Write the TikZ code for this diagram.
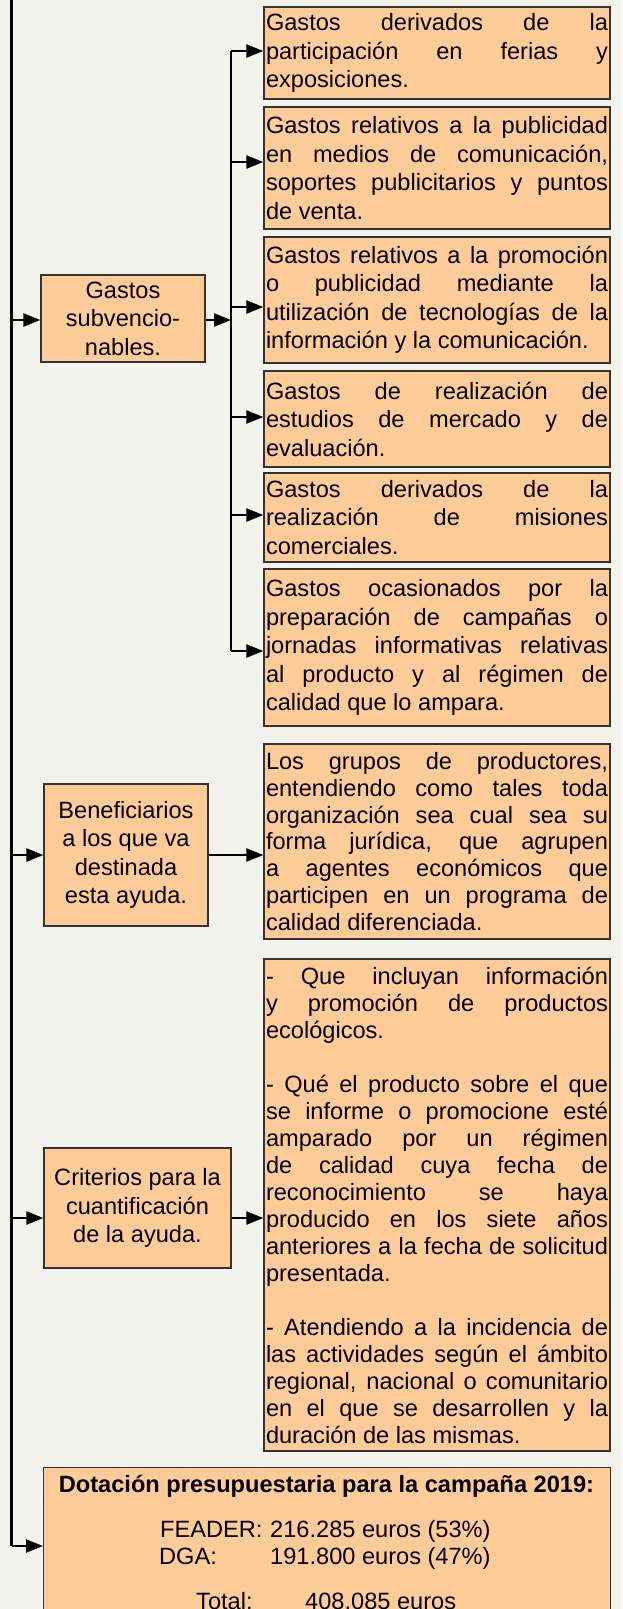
\documentclass[tikz,border=0pt]{standalone}
\usepackage{fontspec}
\setmainfont{Liberation Sans}
\usetikzlibrary{arrows.meta}
\definecolor{bgc}{RGB}{243,243,238}
\definecolor{peach}{RGB}{255,204,153}
\definecolor{edgec}{RGB}{51,51,51}
\hyphenpenalty=10000
\exhyphenpenalty=10000
\setlength{\parindent}{0pt}
\begin{document}
\begin{tikzpicture}[x=1pt,y=-1pt,
  box/.style={draw=edgec, line width=1.3pt, fill=peach},
  rbox/.style={box, text width=342pt, inner xsep=2pt, inner ysep=0pt, align=justify, font=\fontsize{23.6}{28.5}\selectfont},
  lbox/.style={box, align=center, inner sep=0pt, font=\fontsize{23.6}{28.5}\selectfont},
  txt/.style={inner sep=0pt, font=\fontsize{23.6}{28.5}\selectfont},
  conn/.style={line width=2.3pt, black},
  arr/.style={conn, -{Triangle[length=17pt,width=13pt]}},
]
\fill[bgc] (0,0) rectangle (622,1609);
\useasboundingbox (0,0) rectangle (622,1609);
\clip (0,0) rectangle (622,1609);

% left boxes
\node[lbox, minimum width=164pt, minimum height=87pt] (subv) at (123,318.5) {Gastos\\subvencio-\\nables.};
\node[lbox, minimum width=164pt, minimum height=142pt] (benef) at (126,855) {Beneficiarios\\a los que va\\destinada\\esta ayuda.};
\node[lbox, minimum width=187pt, minimum height=120pt] (crit) at (137.5,1208) {Criterios para la\\cuantificación\\de la ayuda.};

% right boxes
\node[rbox, minimum height=92pt] (r1) at (437,53) {Gastos derivados de la\linebreak participación en ferias y\linebreak exposiciones.};
\node[rbox, minimum height=122pt] (r2) at (437,168) {Gastos relativos a la publicidad\linebreak en medios de comunicación,\linebreak soportes publicitarios y puntos\linebreak de venta.};
\node[rbox, minimum height=126pt] (r3) at (437,300) {Gastos relativos a la promoción\linebreak o publicidad mediante la\linebreak utilización de tecnologías de la\linebreak información y la comunicación.};
\node[rbox, minimum height=96pt] (r4) at (437,419) {Gastos de realización de\linebreak estudios de mercado y de\linebreak evaluación.};
\node[rbox, minimum height=89pt] (r5) at (437,517.5) {Gastos derivados de la\linebreak realización de misiones\linebreak comerciales.};
\node[rbox, minimum height=157pt] (r6) at (437,647.5) {Gastos ocasionados por la\linebreak preparación de campañas o\linebreak jornadas informativas relativas\linebreak al producto y al régimen de\linebreak calidad que lo ampara.};
\node[rbox, minimum height=195pt, font=\fontsize{23.6}{26.7}\selectfont] (rb) at (437,841.5) {Los grupos de productores,\linebreak entendiendo como tales toda\linebreak organización sea cual sea su\linebreak forma jurídica, que agrupen\linebreak a agentes económicos que\linebreak participen en un programa de\linebreak calidad diferenciada.};
\node[rbox, minimum height=492pt, font=\fontsize{23.6}{27}\selectfont] (rc) at (437,1205) {- Que incluyan información\linebreak y promoción de productos\linebreak ecológicos.\par\vskip27pt
- Qué el producto sobre el que\linebreak se informe o promocione esté\linebreak amparado por un régimen\linebreak de calidad cuya fecha de\linebreak reconocimiento se haya\linebreak producido en los siete años\linebreak anteriores a la fecha de solicitud\linebreak presentada.\par\vskip27pt
- Atendiendo a la incidencia de\linebreak las actividades según el ámbito\linebreak regional, nacional o comunitario\linebreak en el que se desarrollen y la\linebreak duración de las mismas.};

% budget box
\node[box, minimum width=567pt, minimum height=220pt, anchor=north west, inner sep=0pt] (dot) at (43,1467) {};
\node[txt, anchor=base, font=\fontsize{23.6}{28.5}\selectfont\bfseries] (dtitle) at (326.5,1492) {Dotación presupuestaria para la campaña 2019:};
\node[txt, anchor=base west] (feader) at (160,1537) {FEADER:};
\node[txt, anchor=base west] (feaderv) at (270,1537) {216.285 euros (53\%)};
\node[txt, anchor=base west] (dga) at (159,1564) {DGA:};
\node[txt, anchor=base west] (dgav) at (270,1564) {191.800 euros (47\%)};
\node[txt, anchor=base west] (total) at (196,1609) {Total:};
\node[txt, anchor=base west] (totalv) at (305,1609) {408.085 euros};

% main trunk
\coordinate (top) at (11.5,0);
\coordinate (corner) at (11.5,1546);
\coordinate (ms) at (11.5,320);
\coordinate (mb) at (11.5,855);
\coordinate (mc) at (11.5,1218);
\draw[conn] (top) -- (corner);
\draw[arr] (corner) -- (corner -| dot.west);
\draw[arr] (ms) -- (ms -| subv.west);
\draw[arr] (mb) -- (mb -| benef.west);
\draw[arr] (mc) -- (mc -| crit.west);

% branch for subvencionables
\coordinate (b1) at (231,51);
\coordinate (b2) at (231,162);
\coordinate (b3) at (231,307);
\coordinate (b4) at (231,417);
\coordinate (b5) at (231,515);
\coordinate (b6) at (231,651);
\coordinate (bs) at (231,320);
\draw[conn] (b1) -- (b6);
\draw[arr] (bs -| subv.east) -- (bs);
\draw[arr] (b1) -- (b1 -| r1.west);
\draw[arr] (b2) -- (b2 -| r2.west);
\draw[arr] (b3) -- (b3 -| r3.west);
\draw[arr] (b4) -- (b4 -| r4.west);
\draw[arr] (b5) -- (b5 -| r5.west);
\draw[arr] (b6) -- (b6 -| r6.west);

% other outgoing arrows
\draw[arr] (mb -| benef.east) -- (mb -| rb.west);
\draw[arr] (mc -| crit.east) -- (mc -| rc.west);
\end{tikzpicture}
\end{document}
